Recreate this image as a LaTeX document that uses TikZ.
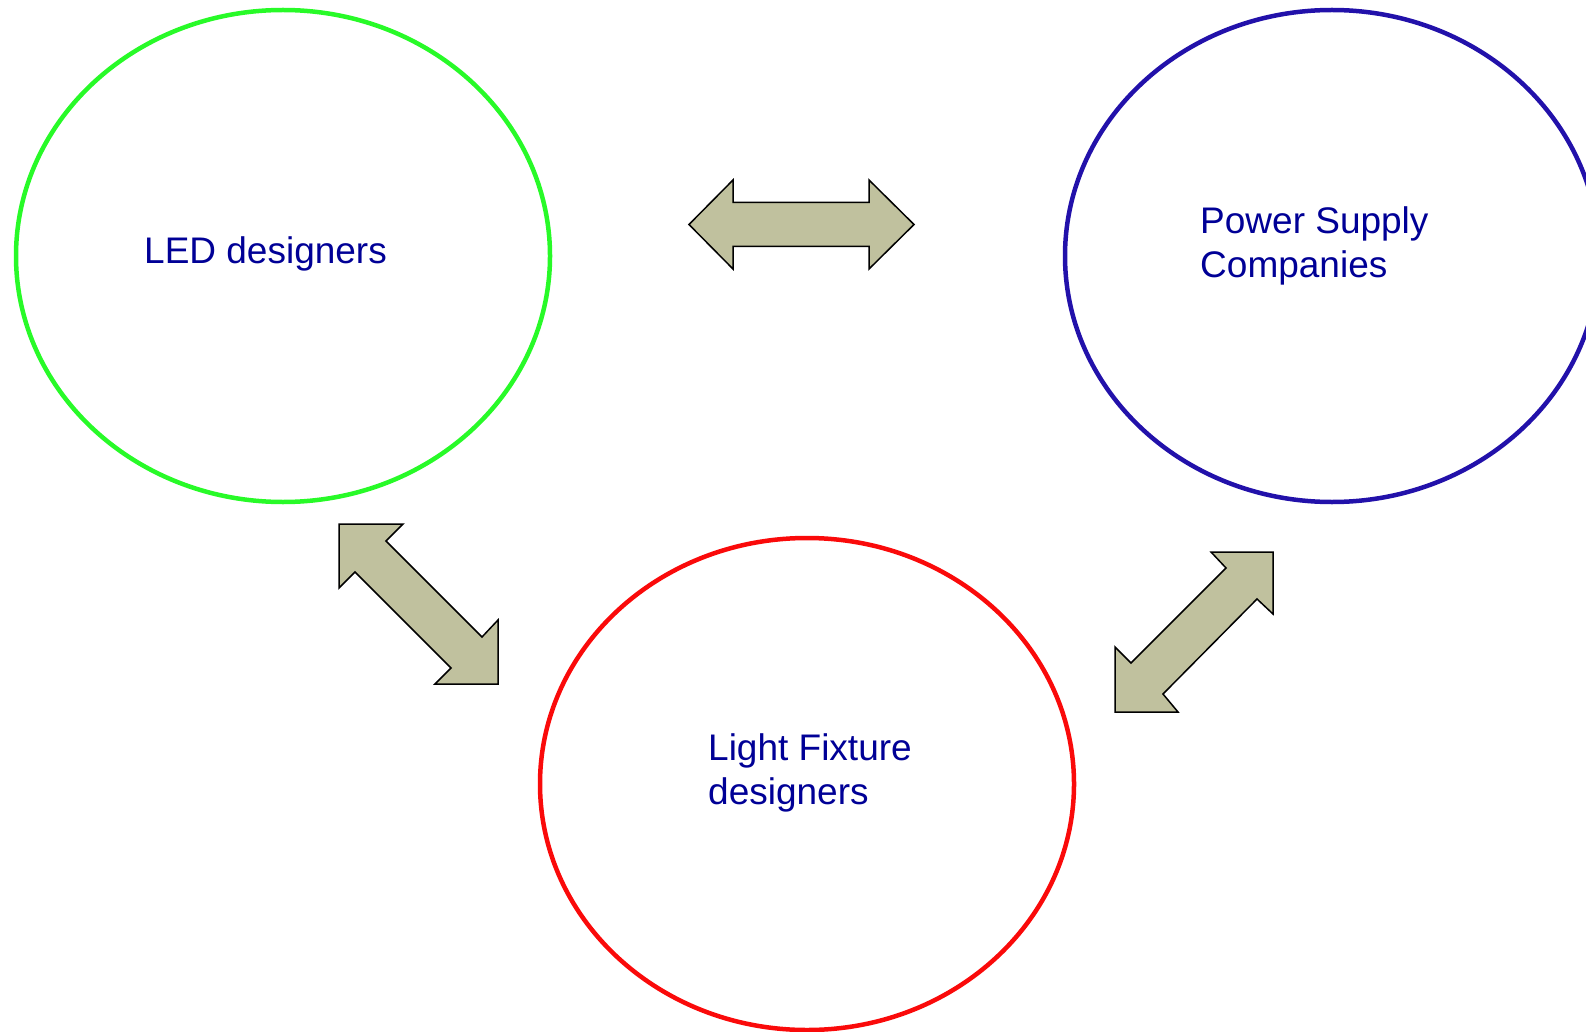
\documentclass[tikz,border=0pt]{standalone}
\usepackage{fontspec}
\setmainfont{Liberation Sans}
\usetikzlibrary{shapes.geometric}
\definecolor{ledgreen}{RGB}{40,250,40}
\definecolor{psblue}{RGB}{34,17,170}
\definecolor{fixred}{RGB}{250,10,10}
\definecolor{arrowfill}{RGB}{192,193,158}
\definecolor{textblue}{RGB}{0,0,150}
\tikzset{
  group/.style={ellipse, draw, line width=4.5pt, minimum width=534pt, minimum height=492pt, inner sep=0pt},
  label/.style={anchor=west, align=left, text=textblue, font=\fontsize{37}{44.5}\selectfont, inner sep=0pt},
  dblarrow/.style={draw=black, line width=1.5pt, fill=arrowfill, line join=miter}
}
\begin{document}
\begin{tikzpicture}[x=1pt,y=-1pt]
\useasboundingbox (0,0) rectangle (1586,1032);
\node[group, draw=ledgreen] (led) at (283,256) {};
\node[group, draw=psblue] (ps) at (1332,256) {};
\node[group, draw=fixred] (fix) at (807,784) {};
\node[label] (ledt) at (144,254) {LED designers};
\node[label] (pst) at (1200,246) {Power Supply\\Companies};
\node[label] (fixt) at (708,773) {Light Fixture\\designers};
\draw[dblarrow] (689,224.5) -- (733,180) -- (733,202.5) -- (869,202.5) -- (869,180) -- (914,224.5) -- (869,269) -- (869,246.5) -- (733,246.5) -- (733,269) -- cycle;
\draw[dblarrow] (339,524) -- (403,524) -- (386,541) -- (482,637) -- (498,620) -- (498,684) -- (435,684) -- (451,668) -- (355,572) -- (339,588) -- cycle;
\draw[dblarrow] (1273,552) -- (1273,614) -- (1257,599) -- (1163,694) -- (1178,712) -- (1115,712) -- (1115,647) -- (1131,663) -- (1226,568) -- (1211,552) -- cycle;
\end{tikzpicture}
\end{document}
